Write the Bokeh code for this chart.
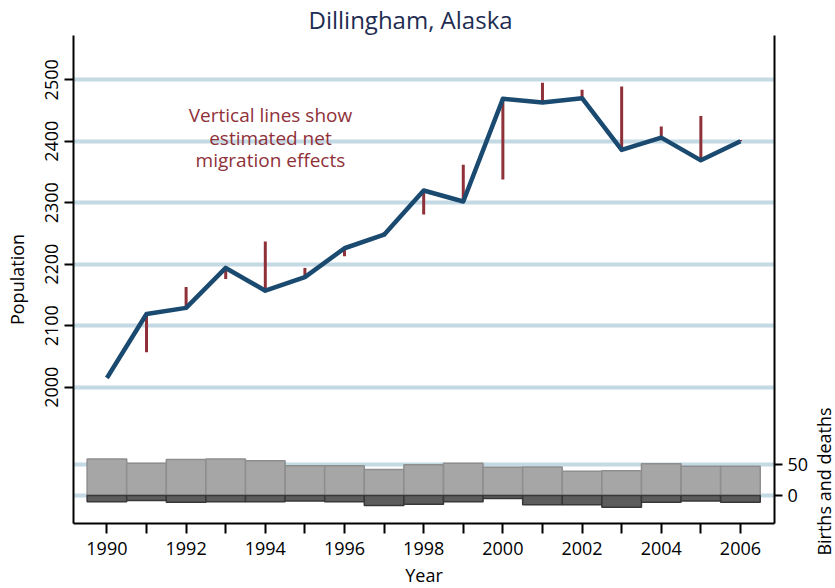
import math
from bokeh.plotting import figure
from bokeh.models import Range1d, LinearAxis, FixedTicker, Grid, Label, ColumnDataSource
from bokeh.embed import file_html
from bokeh.resources import INLINE

# ---- data ----
years = [1990, 1991, 1992, 1993, 1994, 1995, 1996, 1997, 1998, 1999,
         2000, 2001, 2002, 2003, 2004, 2005, 2006]
population = [2015, 2119, 2129, 2194, 2157, 2179, 2226, 2248, 2320, 2302,
              2469, 2463, 2470, 2386, 2406, 2369, 2400]
# population expected without migration (other end of the red vertical lines), 1991-2006
mig_years = years[1:]
no_migration = [2057, 2163, 2176, 2237, 2194, 2213, 2252, 2281, 2362,
                2338, 2495, 2484, 2489, 2424, 2441, 2402]
births = [59, 52, 58, 59, 56, 48, 48, 42, 49.5, 52, 45.5, 46, 39, 40, 51, 47, 47]
deaths = [10, 8, 11, 10, 10, 9, 10, 16, 14, 10, 5, 15, 15, 19, 11, 9, 11]
pop_ticks = [2000, 2100, 2200, 2300, 2400, 2500]
bd_ticks = [0, 50]
title_text = "Dillingham, Alaska"
note_lines = ["Vertical lines show", "estimated net", "migration effects"]
bd_label = "Births and deaths"

FONT = "Open Sans"
NAVY = "#1f2d52"
RED = "#8f3139"
BLUE = "#1b4a70"
GRID = "#c3dae5"

p = figure(frame_width=701, frame_height=488,
           x_range=Range1d(1989.156, 2006.86),
           y_range=Range1d(1778.3, 2572.05),
           output_backend="svg", toolbar_location=None,
           min_border_left=73, min_border_right=61,
           min_border_top=35, min_border_bottom=65)
p.extra_y_ranges = {"bd": Range1d(-45.2, 741.9)}
p.outline_line_color = None
p.background_fill_color = "white"
p.border_fill_color = "white"

# title
p.title.text = title_text
p.title.text_font = FONT
p.title.text_font_size = "24px"
p.title.text_font_style = "normal"
p.title.text_color = NAVY
p.title.align = "left"
p.title.offset = 235
p.title.standoff = 0
p.title.vertical_align = "bottom"

# grids
p.xgrid.visible = False
p.ygrid.ticker = FixedTicker(ticks=pop_ticks)
p.ygrid.grid_line_color = GRID
p.ygrid.grid_line_width = 4
g2 = Grid(dimension=1, ticker=FixedTicker(ticks=bd_ticks), y_range_name="bd",
          grid_line_color=GRID, grid_line_width=4)
p.add_layout(g2)

def style_axis(ax):
    ax.axis_line_width = 2
    ax.axis_line_color = "black"
    ax.major_tick_line_width = 2
    ax.major_tick_line_color = "black"
    ax.major_tick_in = 0
    ax.major_tick_out = 9
    ax.minor_tick_line_color = None
    ax.major_label_text_font = FONT
    ax.major_label_text_font_size = "18px"
    ax.major_label_text_color = "black"
    ax.axis_label_text_font = FONT
    ax.axis_label_text_font_size = "18px"
    ax.axis_label_text_font_style = "normal"
    ax.axis_label_text_color = "black"

# x axis
xa = p.xaxis[0]
style_axis(xa)
xa.ticker = FixedTicker(ticks=years)
xa.major_label_overrides = {y: ("" if y % 2 else str(y)) for y in years}
xa.major_tick_out = 10
xa.major_label_standoff = 8
xa.axis_label = "Year"
xa.axis_label_standoff = 5

# left axis
ya = p.yaxis[0]
style_axis(ya)
ya.ticker = FixedTicker(ticks=pop_ticks)
ya.major_label_orientation = "vertical"
ya.major_label_standoff = 6
ya.axis_label = "Population"
ya.axis_label_standoff = 14

# right axis
ra = LinearAxis(y_range_name="bd", ticker=FixedTicker(ticks=bd_ticks))
style_axis(ra)
ra.major_tick_out = 8
ra.major_label_standoff = 5
p.add_layout(ra, "right")

# bars
bsrc = ColumnDataSource(dict(x=years, births=births,
                             neg_deaths=[-d for d in deaths]))
p.vbar(x="x", width=1, bottom=0, top="births", source=bsrc, y_range_name="bd",
       fill_color="#a6a6a6", line_color="#8e8e8e", line_width=1.5)
p.vbar(x="x", width=1, bottom="neg_deaths", top=0, source=bsrc, y_range_name="bd",
       fill_color="#5c5c5c", line_color="#383838", line_width=1.5)

# migration segments
p.segment(x0=mig_years, y0=population[1:], x1=mig_years, y1=no_migration,
          line_color=RED, line_width=3)

# population line
p.line(years, population, line_color=BLUE, line_width=4.5, line_join="round")

# label for the births/deaths axis, placed in the right-hand side panel
p.add_layout(Label(x=2008.12, y=22.5, y_range_name="bd", text=bd_label,
                   angle=math.pi / 2, text_font=FONT, text_font_size="18px",
                   text_color="black", text_align="center",
                   text_baseline="alphabetic"), "right")

# note
for txt, yy in zip(note_lines, [2442, 2404.6, 2368.8]):
    p.add_layout(Label(x=1994.13, y=yy, text=txt, text_font=FONT,
                       text_font_size="19px", text_color=RED,
                       text_align="center", text_baseline="middle"))

open("out.html", "w").write(file_html(p, INLINE))
